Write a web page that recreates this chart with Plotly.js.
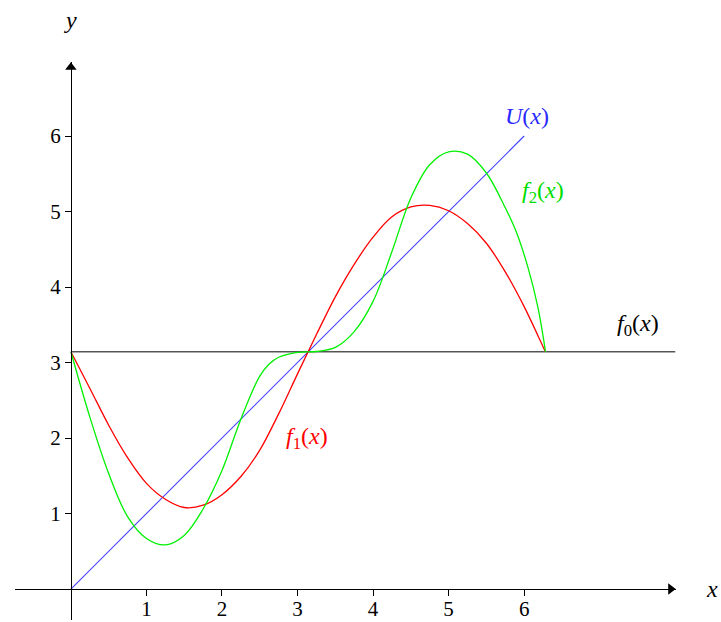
<!DOCTYPE html>
<html>
<head>
<meta charset="utf-8">
<script src="https://cdn.plot.ly/plotly-3.0.1.min.js"></script>
<style>html,body{margin:0;padding:0;background:#fff;}#chart{width:721px;height:622px;}</style>
</head>
<body>
<div id="chart"></div>
<script>
// Values
const f1X = [0, 0.25, 0.5, 0.75, 1.0, 1.25, 1.5, 1.75, 2.0, 2.25, 2.5, 2.75, 3.0, 3.25, 3.5, 3.75, 4.0, 4.25, 4.5, 4.75, 5.0, 5.25, 5.5, 5.75, 6.0, 6.25, 6.283];
const f1Values = [3.142, 2.66, 2.17, 1.74, 1.40, 1.19, 1.08, 1.11, 1.25, 1.49, 1.84, 2.32, 2.85, 3.37, 3.87, 4.30, 4.66, 4.93, 5.06, 5.08, 5.01, 4.84, 4.58, 4.20, 3.74, 3.21, 3.142];
const f2X = [0, 0.25, 0.5, 0.75, 1.0, 1.25, 1.5, 1.75, 2.0, 2.25, 2.5, 2.625, 2.75, 3.0, 3.25, 3.5, 3.75, 4.0, 4.25, 4.5, 4.75, 5.0, 5.25, 5.5, 5.75, 5.9, 6.05, 6.18, 6.283];
const f2Values = [3.142, 2.28, 1.53, 0.96, 0.67, 0.585, 0.71, 1.06, 1.57, 2.25, 2.82, 2.98, 3.07, 3.135, 3.146, 3.20, 3.41, 3.81, 4.47, 5.18, 5.62, 5.79, 5.76, 5.51, 5.05, 4.72, 4.26, 3.74, 3.142];
const uX = [0, 6];
const uValues = [0, 6];
const f0X = [0, 8];
const f0Values = [3.1416, 3.1416];
const xTicks = [1, 2, 3, 4, 5, 6];
const yTicks = [1, 2, 3, 4, 5, 6];
const curveLabels = ['<i>U</i>(<i>x</i>)', '<i>f</i><sub>2</sub>(<i>x</i>)', '<i>f</i><sub>0</sub>(<i>x</i>)', '<i>f</i><sub>1</sub>(<i>x</i>)'];
const labelX = [6.04, 6.25, 7.51, 3.13];
const labelY = [6.26, 5.26, 3.50, 2.0];
const labelColors = ['#2a2aff', '#00dd00', '#000000', '#ff0000'];

const FONT = 'Liberation Serif, DejaVu Serif, serif';
const xRange = [-0.74, 8.01];
const yRange = [-0.41, 6.98];

const traces = [
  {x: f0X, y: f0Values, mode: 'lines', line: {color: '#000000', width: 1}},
  {x: uX, y: uValues, mode: 'lines', line: {color: 'rgb(70,70,255)', width: 1.1}},
  {x: f1X, y: f1Values, mode: 'lines', line: {color: '#ff0000', width: 1.3, shape: 'spline', smoothing: 1}},
  {x: f2X, y: f2Values, mode: 'lines', line: {color: '#00f000', width: 1.3, shape: 'spline', smoothing: 1}},
  // arrow heads at the ends of the axes
  {x: [xRange[1] - 0.07], y: [0], mode: 'markers', cliponaxis: false,
   marker: {symbol: 'triangle-right', size: 10, color: '#000', line: {width: 0}}},
  {x: [0], y: [yRange[1] - 0.07], mode: 'markers', cliponaxis: false,
   marker: {symbol: 'triangle-up', size: 10, color: '#000', line: {width: 0}}}
];

const annotations = curveLabels.map((t, i) => ({
  x: labelX[i], y: labelY[i], xref: 'x', yref: 'y', text: t, showarrow: false,
  xanchor: 'center', yanchor: 'middle',
  font: {family: FONT, size: 24, color: labelColors[i]}
}));
// axis names
annotations.push({x: (712 - 15) / 661, y: (620 - 589) / 558, xref: 'paper', yref: 'paper', text: '<i>x</i>', showarrow: false,
  xanchor: 'center', yanchor: 'middle', font: {family: FONT, size: 24, color: '#000'}});
annotations.push({x: (70 - 15) / 661, y: (620 - 20) / 558, xref: 'paper', yref: 'paper', text: '<i>y</i>', showarrow: false,
  xanchor: 'center', yanchor: 'middle', font: {family: FONT, size: 24, color: '#000'}});

const layout = {
  width: 721, height: 622,
  margin: {l: 15, r: 45, t: 62, b: 2, pad: 0},
  paper_bgcolor: '#fff', plot_bgcolor: '#fff',
  showlegend: false,
  xaxis: {range: xRange, tickvals: xTicks, ticktext: xTicks.map(String), ticks: 'outside', ticklen: 6, tickwidth: 1,
    tickcolor: '#000', showline: true, linecolor: '#000', linewidth: 1, showgrid: false, zeroline: false,
    anchor: 'free', position: 0.41 / 7.39, ticklabelstandoff: -5,
    tickfont: {family: FONT, size: 21, color: '#000'}, fixedrange: true},
  yaxis: {range: yRange, tickvals: yTicks, ticktext: yTicks.map(String), ticks: 'outside', ticklen: 6, tickwidth: 1,
    tickcolor: '#000', showline: true, linecolor: '#000', linewidth: 1, showgrid: false, zeroline: false,
    anchor: 'free', position: 0.74 / 8.75,
    tickfont: {family: FONT, size: 21, color: '#000'}, fixedrange: true},
  annotations: annotations
};

Plotly.newPlot('chart', traces, layout, {staticPlot: true, displayModeBar: false});
</script>
</body>
</html>
